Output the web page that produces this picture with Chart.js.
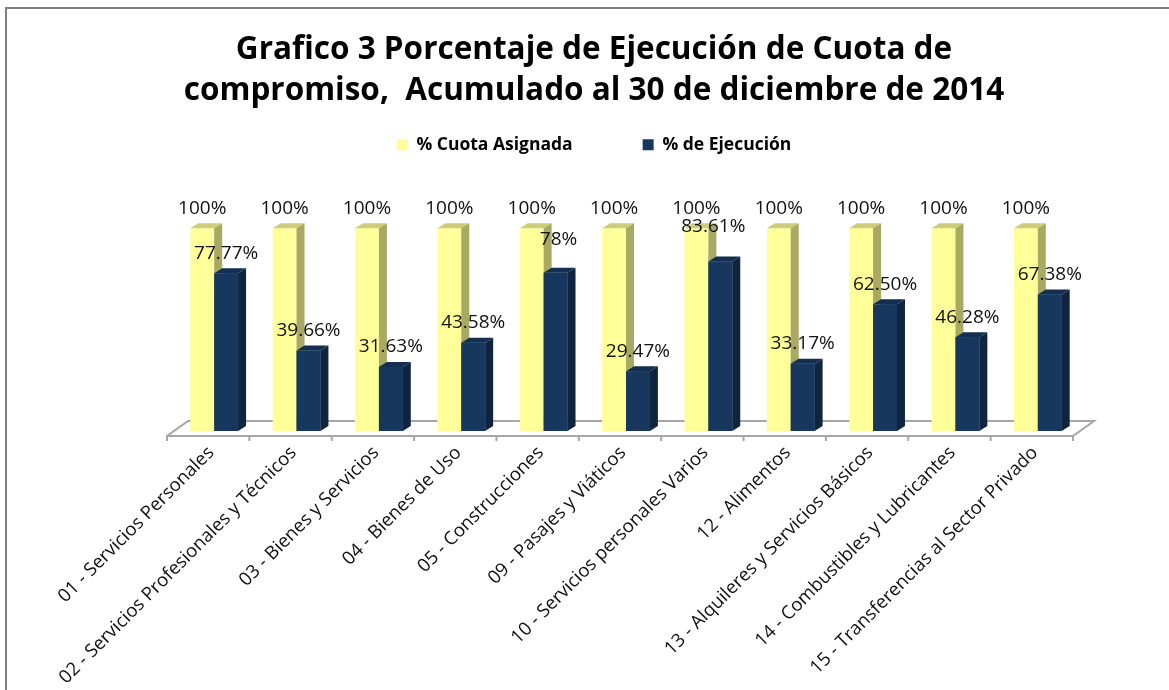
<!DOCTYPE html>
<html>
<head>
<meta charset="utf-8">
<script src="https://cdn.jsdelivr.net/npm/chart.js@4"></script>
<style>
html,body{margin:0;padding:0;background:#fff;}
#wrap{position:absolute;left:0;top:0;width:1169px;height:690px;}
</style>
</head>
<body>
<div id="wrap"><canvas id="c" width="1169" height="690"></canvas></div>
<script>
const categories = [
  "01 - Servicios Personales",
  "02 - Servicios Profesionales y Técnicos",
  "03 - Bienes y Servicios",
  "04 - Bienes de Uso",
  "05 - Construcciones",
  "09 - Pasajes y Viáticos",
  "10 - Servicios personales Varios",
  "12 - Alimentos",
  "13 - Alquileres y Servicios Básicos",
  "14 - Combustibles y Lubricantes",
  "15 - Transferencias al Sector Privado"
];
const cuotaAsignada = [100,100,100,100,100,100,100,100,100,100,100];
const ejecucion = [77.77,39.66,31.63,43.58,78,29.47,83.61,33.17,62.50,46.28,67.38];
const cuotaLabels = ["100%","100%","100%","100%","100%","100%","100%","100%","100%","100%","100%"];
const ejecucionLabels = ["77.77%","39.66%","31.63%","43.58%","78%","29.47%","83.61%","33.17%","62.50%","46.28%","67.38%"];
const titleLines = ["Grafico 3 Porcentaje de Ejecución de Cuota de","compromiso,  Acumulado al 30 de diciembre de 2014"];

const FONT = '"Open Sans", sans-serif';
const depthX = 8, depthY = 5;

function shade(ctx, pts, color){
  ctx.fillStyle = color;
  ctx.beginPath();
  pts.forEach((p,i)=> i ? ctx.lineTo(p[0],p[1]) : ctx.moveTo(p[0],p[1]));
  ctx.closePath();
  ctx.fill();
}

const frame3d = {
  id:'frame3d',
  beforeDatasetsDraw(chart){
    const {ctx, scales:{x,y}} = chart;
    const base = y.getPixelForValue(0);
    const n = categories.length;
    const step = x.getPixelForValue(1) - x.getPixelForValue(0);
    const left = x.getPixelForValue(0) - step/2 - 6;
    const right = left + step*n;
    const fy = base + 5, by = base - 10, dx = 21;
    ctx.save();
    ctx.strokeStyle = '#a6a6a6';
    ctx.lineWidth = 2;
    ctx.beginPath();
    ctx.moveTo(left, fy+5); ctx.lineTo(left, fy);
    ctx.lineTo(left+dx, by); ctx.lineTo(right+dx, by);
    ctx.lineTo(right, fy); ctx.lineTo(left, fy);
    for(let i=1;i<=n;i++){ ctx.moveTo(left+step*i, fy); ctx.lineTo(left+step*i, fy+5); }
    ctx.stroke();
    ctx.strokeStyle = '#808080';
    ctx.beginPath();
    ctx.moveTo(6,690); ctx.lineTo(6,8); ctx.lineTo(1169,8);
    ctx.stroke();
    ctx.restore();
  },
  afterDatasetsDraw(chart){
    const {ctx} = chart;
    const sty = [
      {top:'#cccc7a', side:'#a9a964'},
      {top:'#132e50', side:'#0f243e'}
    ];
    [0,1].forEach(d=>{
      chart.getDatasetMeta(d).data.forEach(b=>{
        const l=b.x-b.width/2, r=b.x+b.width/2, t=b.y, bo=b.base;
        shade(ctx,[[l,t],[l+depthX,t-depthY],[r+depthX,t-depthY],[r,t]],sty[d].top);
        shade(ctx,[[r,t],[r+depthX,t-depthY],[r+depthX,bo-depthY],[r,bo]],sty[d].side);
      });
    });
    chart.getDatasetMeta(1).data.forEach(b=>{
      ctx.fillStyle='#17375e';
      ctx.fillRect(b.x-b.width/2,b.y,b.width,b.base-b.y);
    });
    const nudge = {4:[3,-13], 6:[-7,-15]};
    ctx.save();
    ctx.font = '19px '+FONT;
    ctx.fillStyle = '#111';
    ctx.textAlign='center';
    ctx.textBaseline='middle';
    chart.getDatasetMeta(0).data.forEach((b,i)=>ctx.fillText(cuotaLabels[i],b.x,b.y-20));
    chart.getDatasetMeta(1).data.forEach((b,i)=>{
      const n = nudge[i]||[0,0];
      ctx.fillText(ejecucionLabels[i],b.x+n[0],b.y-20+n[1]);
    });
    ctx.restore();
  }
};

new Chart(document.getElementById('c'),{
  type:'bar',
  data:{
    labels:categories,
    datasets:[
      {label:'% Cuota Asignada',data:cuotaAsignada,backgroundColor:'#ffff99'},
      {label:'% de Ejecución',data:ejecucion,backgroundColor:'#17375e'}
    ]
  },
  plugins:[frame3d],
  options:{
    responsive:false,
    animation:false,
    layout:{padding:{left:109,right:90,top:0,bottom:0}},
    datasets:{bar:{categoryPercentage:0.58,barPercentage:1}},
    plugins:{
      title:{display:true,text:titleLines,color:'#000',
        font:{family:FONT,size:31.5,weight:'bold',lineHeight:1.3},
        padding:{top:30,bottom:-46}},
      legend:{display:true,position:'top',
        labels:{boxWidth:11,boxHeight:11,padding:70,color:'#000',
          font:{family:FONT,size:17.5,weight:'bold'}}},
      tooltip:{enabled:false}
    },
    scales:{
      y:{display:true,min:0,max:132,
        grid:{display:false},border:{display:false},ticks:{display:false},
        afterFit(s){s.width=64;}},
      x:{
        grid:{display:false},border:{display:false},
        afterFit(s){s.height=259;},
        ticks:{color:'#111',font:{family:FONT,size:18.5},maxRotation:45,minRotation:45,autoSkip:false,padding:3,labelOffset:-3}
      }
    }
  }
});
</script>
</body>
</html>
